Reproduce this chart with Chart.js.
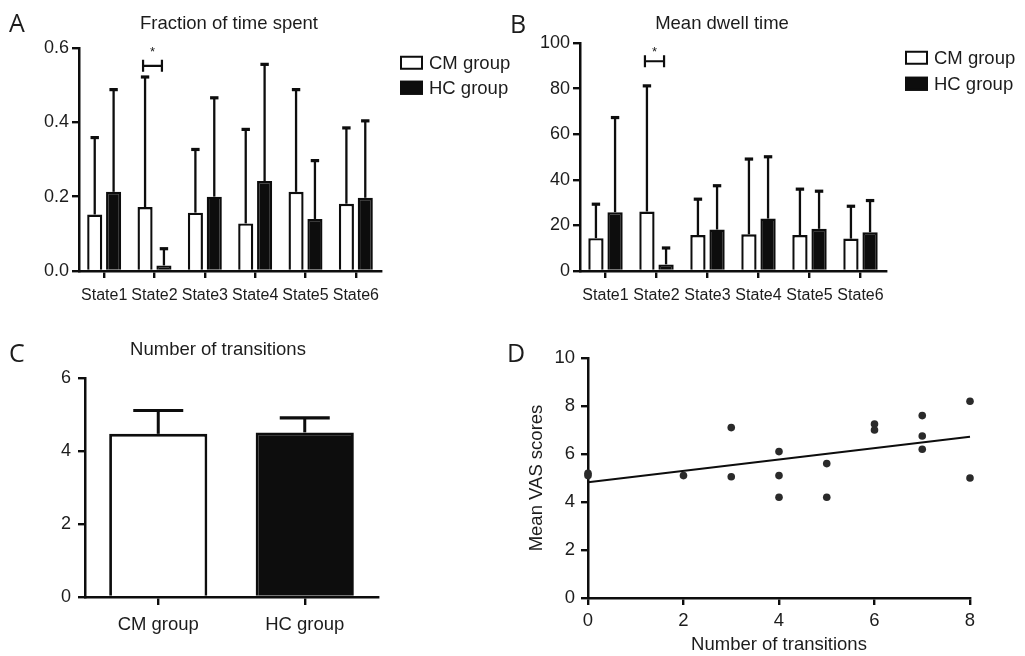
<!DOCTYPE html>
<html><head><meta charset="utf-8">
<script src="https://cdn.jsdelivr.net/npm/chart.js@4.4.0/dist/chart.umd.min.js"></script>
<style>
html,body{margin:0;padding:0;background:#fff;}
#wrap{position:relative;width:1025px;height:656px;overflow:hidden;background:#fff;font-family:"Liberation Sans",Arial,sans-serif;color:#1c1c1c;}
canvas{position:absolute;left:0;top:0;}
.t{position:absolute;white-space:nowrap;font-size:18.5px;line-height:1;transform:translate(-50%,-50%);}
.letter{position:absolute;font-family:"Open Sans",sans-serif;font-size:25px;line-height:1;transform:translateY(-50%);color:#1c1c1c;}
.leg{position:absolute;display:flex;align-items:center;font-size:18.5px;line-height:1;transform:translateY(-50%);white-space:nowrap;}
.sw{width:19px;height:10px;border:2.5px solid #0d0d0d;margin-right:6px;}
</style></head>
<body>
<div id="wrap">
  <canvas id="cA" width="1025" height="656"></canvas>
  <canvas id="cB" width="1025" height="656"></canvas>
  <canvas id="cC" width="1025" height="656"></canvas>
  <canvas id="cD" width="1025" height="656"></canvas>
  <div class="letter" style="left:9px;top:22px;">A</div>
  <div class="letter" style="left:510px;top:23px;">B</div>
  <div class="letter" style="left:9px;top:352px;">C</div>
  <div class="letter" style="left:507px;top:352px;">D</div>
  <div class="t" style="left:229px;top:23px;">Fraction of time spent</div>
  <div class="t" style="left:722px;top:23px;">Mean dwell time</div>
  <div class="t" style="left:218px;top:349px;">Number of transitions</div>
  <div class="leg" style="left:400px;top:63px;"><div class="sw" style="background:#fff"></div>CM group</div>
  <div class="leg" style="left:400px;top:88px;"><div class="sw" style="background:#0d0d0d"></div>HC group</div>
  <div class="leg" style="left:905px;top:58px;"><div class="sw" style="background:#fff"></div>CM group</div>
  <div class="leg" style="left:905px;top:84px;"><div class="sw" style="background:#0d0d0d"></div>HC group</div>
</div>
<script>
// ---- data ----
const stateLabels = ['State1','State2','State3','State4','State5','State6'];
const fracCM    = [0.152, 0.172, 0.157, 0.128, 0.213, 0.181];
const fracCMTop = [0.359, 0.522, 0.327, 0.381, 0.488, 0.385];
const fracHC    = [0.213, 0.015, 0.200, 0.242, 0.140, 0.197];
const fracHCTop = [0.488, 0.060, 0.466, 0.556, 0.297, 0.404];
const dwellCM    = [14.4, 26.1, 15.8, 16.1, 15.8, 14.2];
const dwellCMTop = [29.3, 81.2, 31.5, 49.1, 35.9, 28.4];
const dwellHC    = [25.8, 2.9, 18.2, 23.0, 18.5, 17.0];
const dwellHCTop = [67.3, 10.1, 37.4, 50.1, 35.0, 30.9];
const groupLabels = ['CM group','HC group'];
const transMean = [4.47, 4.51];
const transTop  = [5.11, 4.91];
const vasX = [0, 0, 2, 3, 3, 4, 4, 4, 5, 5, 6, 6, 7, 7, 7, 8, 8];
const vasY = [5.2, 5.1, 5.1, 7.1, 5.05, 6.1, 5.1, 4.2, 5.6, 4.2, 7.25, 7.0, 7.6, 6.75, 6.2, 8.2, 5.0];
const fitX = [0, 8];
const fitY = [4.82, 6.72];
const sigState = 1;          // index of State2
const sigFracLevel = 0.552;
const sigDwellLevel = 92;

// ---- helpers ----
Chart.defaults.font.family = '"Liberation Sans", Arial, sans-serif';
Chart.defaults.color = '#1c1c1c';
const INK = '#0d0d0d';
const TXT = '#1c1c1c';

const errorBarPlugin = {
  id: 'errbars',
  afterDatasetsDraw(chart, args, o) {
    const ctx = chart.ctx, ys = chart.scales.y;
    ctx.save();
    ctx.strokeStyle = INK;
    chart.data.datasets.forEach((ds, di) => {
      if (!ds.errTop) return;
      const meta = chart.getDatasetMeta(di);
      meta.data.forEach((el, i) => {
        const top = ys.getPixelForValue(ds.errTop[i]);
        ctx.lineWidth = o.lineWidth;
        ctx.beginPath(); ctx.moveTo(el.x, el.y); ctx.lineTo(el.x, top); ctx.stroke();
        ctx.lineWidth = o.capThick;
        ctx.beginPath(); ctx.moveTo(el.x - o.cap, top); ctx.lineTo(el.x + o.cap, top); ctx.stroke();
      });
    });
    if (o.sig) {
      const a = chart.getDatasetMeta(0).data[o.sig.index];
      const b = chart.getDatasetMeta(1).data[o.sig.index];
      const y = ys.getPixelForValue(o.sig.level);
      const x0 = a.x - 2, x1 = b.x - 2;
      ctx.lineWidth = 2.2;
      ctx.beginPath();
      ctx.moveTo(x0, y); ctx.lineTo(x1, y);
      ctx.moveTo(x0, y - 6); ctx.lineTo(x0, y + 6);
      ctx.moveTo(x1, y - 6); ctx.lineTo(x1, y + 6);
      ctx.stroke();
      ctx.fillStyle = TXT;
      ctx.font = '13px "Liberation Sans", Arial, sans-serif';
      ctx.textAlign = 'center'; ctx.textBaseline = 'middle';
      ctx.fillText('*', (x0 + x1) / 2, y - o.sig.starOff);
    }
    ctx.restore();
  }
};

function axisGrid(len) {
  return { drawOnChartArea: false, tickLength: len, color: INK, lineWidth: 2.4 };
}
const border = { color: INK, width: 2.5 };

function stateChart(id, cm, cmTop, hc, hcTop, max, step, fmt, pad, sig) {
  return new Chart(document.getElementById(id), {
    type: 'bar',
    data: {
      labels: stateLabels,
      datasets: [
        { label: 'CM group', data: cm, errTop: cmTop, backgroundColor: '#fff', borderColor: INK, borderWidth: 2.4,
          categoryPercentage: 0.75, barPercentage: 0.8 },
        { label: 'HC group', data: hc, errTop: hcTop, backgroundColor: INK, borderColor: INK, borderWidth: 2.4,
          categoryPercentage: 0.75, barPercentage: 0.8 }
      ]
    },
    options: {
      responsive: false, animation: false, devicePixelRatio: 1,
      layout: { padding: pad },
      plugins: { legend: { display: false }, tooltip: { enabled: false },
        errbars: { lineWidth: 2.3, capThick: 3.2, cap: 4.2, sig: sig } },
      scales: {
        x: { grid: Object.assign(axisGrid(7), { offset: false }), border: border,
             ticks: { font: { size: 16 }, padding: 8, maxRotation: 0, autoSkip: false, color: TXT },
             afterFit: s => { s.height = 40; } },
        y: { min: 0, max: max, grid: axisGrid(7), border: border,
             ticks: { stepSize: step, callback: fmt, font: { size: 18 }, padding: 3, color: TXT },
             afterFit: s => { s.width = 45; } }
      }
    },
    plugins: [errorBarPlugin]
  });
}

stateChart('cA', fracCM, fracCMTop, fracHC, fracHCTop, 0.6, 0.2, v => v.toFixed(1),
  { left: 34, top: 48, right: 644, bottom: 345 }, { index: sigState, level: sigFracLevel, starOff: 13 });
stateChart('cB', dwellCM, dwellCMTop, dwellHC, dwellHCTop, 100, 20, v => v,
  { left: 535, top: 43, right: 139, bottom: 345 }, { index: sigState, level: sigDwellLevel, starOff: 9 });

new Chart(document.getElementById('cC'), {
  type: 'bar',
  data: { labels: groupLabels, datasets: [
    { data: transMean, errTop: transTop, backgroundColor: ['#fff', INK], borderColor: INK, borderWidth: 2.8,
      categoryPercentage: 1, barPercentage: 0.67 } ] },
  options: {
    responsive: false, animation: false, devicePixelRatio: 1,
    layout: { padding: { left: 45, top: 378, right: 647, bottom: 9 } },
    plugins: { legend: { display: false }, tooltip: { enabled: false },
      errbars: { lineWidth: 3, capThick: 3.2, cap: 25 } },
    scales: {
      x: { grid: Object.assign(axisGrid(8), { offset: false }), border: border,
           ticks: { font: { size: 18.5 }, padding: 9, maxRotation: 0, color: TXT },
           afterFit: s => { s.height = 50; } },
      y: { min: 0, max: 6, grid: axisGrid(7), border: border,
           ticks: { stepSize: 2, font: { size: 18 }, padding: 7, color: TXT },
           afterFit: s => { s.width = 40; } }
    }
  },
  plugins: [errorBarPlugin]
});

new Chart(document.getElementById('cD'), {
  type: 'scatter',
  data: { datasets: [
    { type: 'line', data: fitX.map((x, i) => ({ x: x, y: fitY[i] })), borderColor: INK, borderWidth: 2,
      pointRadius: 0, fill: false, clip: false },
    { data: vasX.map((x, i) => ({ x: x, y: vasY[i] })), backgroundColor: '#2a2a2a', borderWidth: 0,
      pointRadius: 3.8, clip: false }
  ] },
  options: {
    responsive: false, animation: false, devicePixelRatio: 1,
    layout: { padding: { left: 520, top: 358, right: 55, bottom: 0 } },
    plugins: { legend: { display: false }, tooltip: { enabled: false } },
    scales: {
      x: { type: 'linear', min: 0, max: 8, grid: axisGrid(7), border: border,
           ticks: { stepSize: 2, font: { size: 18.5 }, padding: 5, color: TXT },
           title: { display: true, text: 'Number of transitions', font: { size: 18.5 }, color: TXT, padding: { top: 0, bottom: 0 } },
           afterFit: s => { s.height = 58; } },
      y: { min: 0, max: 10, grid: axisGrid(7), border: border,
           ticks: { stepSize: 2, font: { size: 18.5 }, padding: 6, color: TXT },
           title: { display: true, text: 'Mean VAS scores', font: { size: 18.5 }, color: TXT, padding: { top: 6, bottom: 0 } },
           afterFit: s => { s.width = 68; } }
    }
  }
});
</script>
</body></html>
